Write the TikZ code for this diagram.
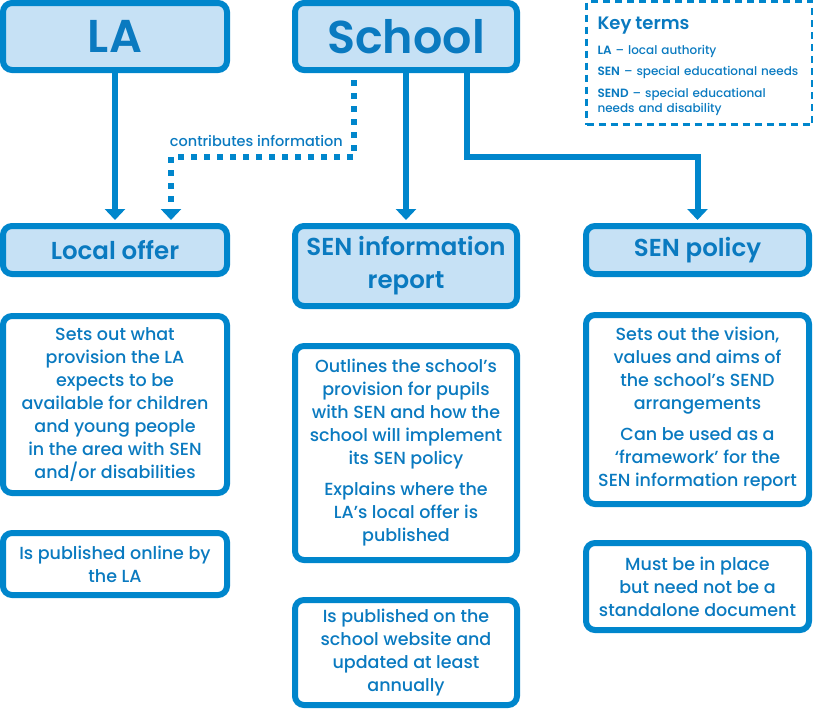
\documentclass[tikz,border=0pt]{standalone}
\usepackage{fontspec}
\setmainfont{Poppins}[UprightFont=* Medium, BoldFont=* SemiBold]
\usetikzlibrary{arrows.meta}
\definecolor{senblue}{RGB}{0,134,204}
\definecolor{senfill}{RGB}{198,225,245}
\definecolor{sentext}{RGB}{10,122,192}
\tikzset{
    box/.style={draw=senblue, line width=6pt, rounded corners=9pt, align=center, text=sentext, inner sep=0pt},
    headbox/.style={box, fill=senfill, font=\bfseries},
    textbox/.style={box, fill=white, font=\fontsize{17.5}{23}\selectfont},
    keybox/.style={draw=senblue, line width=3pt, dash pattern=on 7pt off 5pt, text=sentext, align=left,
        text width=204pt, inner xsep=11pt, minimum height=123pt, font=\fontsize{12}{15}\selectfont},
    flow/.style={draw=senblue, line width=6pt, -{Triangle[width=20pt,length=11pt]}, shorten >=3pt},
    infoline/.style={flow, dash pattern=on 6pt off 7pt},
}
\begin{document}
\begin{tikzpicture}[x=1pt, y=-1pt]
        \useasboundingbox (0,0) rectangle (813,710);
        \pgfmathsetmacro{\colA}{115}
        \pgfmathsetmacro{\colB}{406}
        \pgfmathsetmacro{\colC}{697.5}
        
        %% top row
        \node[headbox, minimum width=224pt, minimum height=67pt, font=\bfseries\fontsize{46}{50}\selectfont] (la) at (\colA,36.5) {LA};
        \node[headbox, minimum width=222pt, minimum height=67pt, font=\bfseries\fontsize{46}{50}\selectfont] (school) at (\colB,36.5) {School};
        \node[keybox] (keys) at (699.5,63) {\rule{0pt}{20pt}{\fontsize{18}{20}\selectfont\bfseries Key terms}\\[10pt]
            \textbf{LA} – local authority\\[6pt]
            \textbf{SEN} – special educational needs\\[7pt]
            \textbf{SEND} – special educational\\ needs and disability};
        
        %% second row
        \node[headbox, minimum width=224pt, minimum height=48pt, font=\bfseries\fontsize{24.5}{33}\selectfont] (offer) at (\colA,250) {Local offer};
        \node[headbox, minimum width=222pt, minimum height=80pt, font=\bfseries\fontsize{24.5}{33}\selectfont] (report) at (\colB,266) {SEN information\\ report};
        \node[headbox, minimum width=223pt, minimum height=48pt, font=\bfseries\fontsize{24.5}{33}\selectfont] (policy) at (\colC,250) {SEN policy};
        
        %% descriptions
        \node[textbox, minimum width=224pt, minimum height=177pt] (offerdesc) at (\colA,404.5) {Sets out what\\ provision the LA\\ expects to be\\ available for children\\ and young people\\ in the area with SEN\\ and/or disabilities};
        \node[textbox, minimum width=224pt, minimum height=62pt] (offerpub) at (\colA,564) {Is published online by\\ the LA};
        \node[textbox, minimum width=222pt, minimum height=214pt] (reportdesc) at (\colB,453) {Outlines the school’s\\ provision for pupils\\ with SEN and how the\\ school will implement\\ its SEN policy\\[8pt] Explains where the\\ LA’s local offer is\\ published};
        \node[textbox, minimum width=222pt, minimum height=105pt] (reportpub) at (\colB,652.5) {Is published on the\\ school website and\\ updated at least\\ annually};
        \node[textbox, minimum width=223pt, minimum height=189pt] (policydesc) at (\colC,409.5) {Sets out the vision,\\ values and aims of\\ the school’s SEND\\ arrangements\\[8pt] Can be used as a\\ ‘framework’ for the\\ SEN information report};
        \node[textbox, minimum width=223pt, minimum height=87pt] (policymust) at (\colC,586.5) {Must be in place\\ but need not be a\\ standalone document};
        
        %% connectors
        \coordinate (infoA) at (354,157);
        \coordinate (infoB) at (171,157);
        \coordinate (bend) at (467,157);
        \draw[flow] (la) -- (offer);
        \draw[flow] (school) -- (report);
        \draw[flow] (bend |- school.south) -- (bend) -| (policy.north);
        \draw[infoline] (infoA |- school.south) ++(0,7) -- (infoA) -- (infoB) -- (infoB |- offer.north);
        \node[anchor=south east, text=sentext, font=\fontsize{14.5}{16}\selectfont\mdseries, inner sep=0pt] (contrib) at (343,147) {contributes information};
\end{tikzpicture}
\end{document}
